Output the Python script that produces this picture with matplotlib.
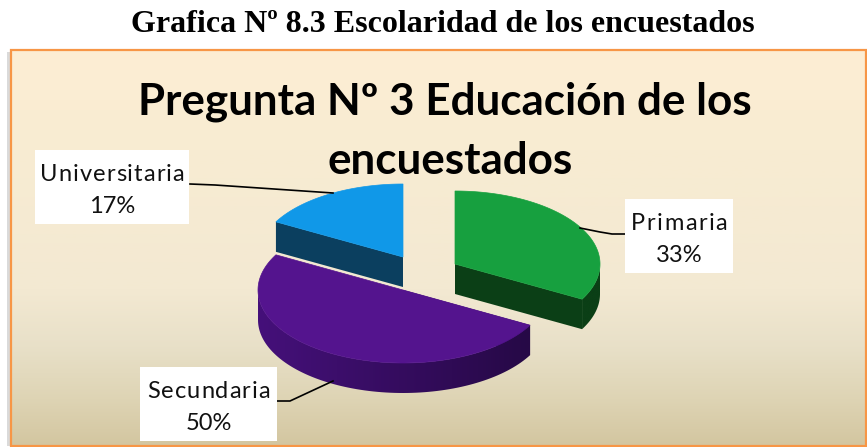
from matplotlib import pyplot as plt
from matplotlib.patches import Polygon, Rectangle
from matplotlib.colors import to_rgb
import numpy as np

# datos de la grafica
categorias = ['Primaria', 'Secundaria', 'Universitaria']
porcentajes = [33, 50, 17]

titulo = "Grafica Nº 8.3 Escolaridad de los encuestados"
titulo_pie = ["Pregunta Nº 3 Educación de los", "encuestados"]

# estilo de cada rebanada
centros = [(455, 264), (403, 290), (403, 257)]
color_top = ['#17A03F', '#54148E', '#1098E8']
color_lado = ['#0B3F16', '#260946', '#0B3F5F']
color_lado2 = ['#0B3F16', '#45107A', '#0B3F5F']
cajas = [(625, 199, 108, 74), (140, 367, 137, 74), (35, 150, 154, 74)]
espacios = [1.5, 1.0, 1.0]
lineas = [[(580, 228), (600, 232), (612, 234), (625, 234)],
          [(333, 381), (290, 401), (277, 401)],
          [(333, 193), (215, 185), (190, 184)]]

RX = 145
RY = 73
ALTO = 30

fig = plt.figure(figsize=(8.67, 4.47), dpi=100)
ax = fig.add_axes([0, 0, 1, 1])
ax.axis('off')

# sombra y fondo con degradado
ax.add_patch(Rectangle((7, 52), 4, 394, color='#DADADA', lw=0, zorder=0))
filas = np.linspace(49, 446, 256)
stops_y = [49, 150, 290, 347, 400, 446]
stops_c = np.array([[253, 238, 212], [248, 236, 210], [243, 233, 210],
                    [232, 224, 200], [222, 212, 180], [211, 198, 160]]) / 255
grad = np.stack([np.interp(filas, stops_y, stops_c[:, k]) for k in range(3)], axis=1)
ax.imshow(grad.reshape(-1, 1, 3), extent=(10, 866, 446, 49), aspect='auto', zorder=1)
ax.add_patch(Rectangle((10.5, 49.5), 855, 396, fill=False, ec='#F79646', lw=1.6, zorder=2))


def punto(c, ang):
    # angulo en grados, 0 arriba y sentido horario
    r = np.radians(ang)
    return c[0] + RX * np.sin(r), c[1] - RY * np.cos(r)


def ancho(s, **kw):
    t = ax.text(0, 0, s, **kw)
    w = t.get_window_extent(fig.canvas.get_renderer()).width
    t.remove()
    return w


def texto_espaciado(cx, y, s, extra, **kw):
    # matplotlib no tiene letter spacing, se coloca letra por letra
    total = ancho(s, **kw) + extra * (len(s) - 1)
    x0 = cx - total / 2
    for k, letra in enumerate(s):
        pre = ancho(s[:k + 1], **kw) - ancho(letra, **kw) if k > 0 else 0
        ax.text(x0 + pre + extra * k, y, letra, ha='left', va='baseline', **kw)


acum = 0
rebanadas = []
for i, p in enumerate(porcentajes):
    a0 = acum * 3.6
    a1 = (acum + p) * 3.6
    acum += p
    rebanadas.append((a0, a1, i))

# primero los lados, luego las tapas
for a0, a1, i in rebanadas:
    c = centros[i]
    for ang in (a0, a1):
        if 90 < ang % 360 < 270 or (ang % 360 > 270 and i == 2):
            x, y = punto(c, ang)
            ax.add_patch(Polygon([c, (x, y), (x, y + ALTO), (c[0], c[1] + ALTO)],
                                 color=color_lado[i], lw=0, zorder=3))
    lo = max(a0, 90)
    hi = min(a1, 270)
    if hi > lo:
        angs = np.linspace(lo, hi, 90)
        arriba = [punto(c, a) for a in angs]
        abajo = [(x, y + ALTO) for x, y in arriba]
        borde = Polygon(arriba + abajo[::-1], fc='none', ec='none', zorder=3)
        ax.add_patch(borde)
        # degradado recortado para que el lado curvo aclare hacia la izquierda
        xs = [q[0] for q in arriba]
        c1 = np.array(to_rgb(color_lado[i]))
        c2 = np.array(to_rgb(color_lado2[i]))
        tira = np.linspace(c2, c1, 128).reshape(1, -1, 3)
        im = ax.imshow(tira, extent=(min(xs), max(xs), c[1] + RY + ALTO, c[1] - RY),
                       aspect='auto', zorder=3)
        im.set_clip_path(borde)

for a0, a1, i in rebanadas:
    c = centros[i]
    angs = np.linspace(a0, a1, 120)
    ax.add_patch(Polygon([c] + [punto(c, a) for a in angs], color=color_top[i], lw=0.5, zorder=4))

ax.set_xlim(0, 867)
ax.set_ylim(447, 0)

# etiquetas
for i, nombre in enumerate(categorias):
    x, y, w, h = cajas[i]
    ax.add_patch(Rectangle((x, y), w, h, color='white', lw=0, zorder=5))
    xs = [q[0] for q in lineas[i]]
    ys = [q[1] for q in lineas[i]]
    ax.plot(xs, ys, color='black', lw=1.2, zorder=4.5)
    texto_espaciado(x + w / 2, y + 31, nombre, espacios[i], fontsize=17,
                    family='Lato', color='#111111', zorder=6)
    ax.text(x + w / 2, y + 63, str(porcentajes[i]) + "%", ha='center', va='baseline',
            fontsize=17, family='Lato', color='#111111', zorder=6)

ax.text(443, 32, titulo, ha='center', va='baseline', fontsize=23,
        family='Liberation Serif', weight='bold')
ax.text(445, 114, titulo_pie[0], ha='center', va='baseline', fontsize=31.7,
        family='Lato', weight='bold', zorder=7)
ax.text(450, 174, titulo_pie[1], ha='center', va='baseline', fontsize=31.7,
        family='Lato', weight='bold', zorder=7)

plt.savefig("out.png", dpi=100)
